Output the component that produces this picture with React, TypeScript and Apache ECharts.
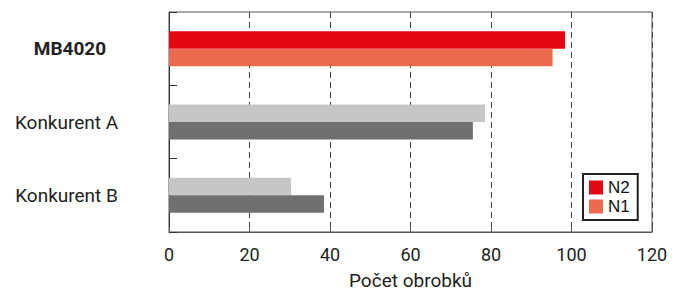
import React, { useEffect, useRef } from "react";
import * as echarts from "echarts";

const categories = ["Konkurent B", "Konkurent A", "MB4020"];
const n2Values = [30.3, 78.5, 98.4];
const n1Values = [38.5, 75.5, 95.3];
const xTicks = [0, 20, 40, 60, 80, 100, 120];
const highlight = "MB4020";

const N2_RED = "#E30613";
const N1_ORANGE = "#EC6A4E";
const LIGHT_GRAY = "#C6C6C6";
const DARK_GRAY = "#707070";

export default function App() {
  const ref = useRef<HTMLDivElement>(null);
  useEffect(() => {
    if (!ref.current) return;
    const chart = echarts.init(ref.current, undefined, { renderer: "svg" });
    const mk = (vals: number[], main: string, other: string) =>
      vals.map((v, i) => ({
        value: v,
        itemStyle: { color: categories[i] === highlight ? main : other },
      }));
    chart.setOption({
      animation: false,
      grid: {
        left: 169,
        right: 25,
        top: 12,
        bottom: 60,
        show: true,
        borderColor: "#555",
        borderWidth: 1,
      },
      legend: {
        orient: "vertical",
        left: 583,
        top: 174,
        data: ["N2", "N1"],
        icon: "rect",
        itemWidth: 14,
        itemHeight: 14,
        itemGap: 2,
        padding: [5, 8, 5, 6],
        borderColor: "#222",
        borderWidth: 2,
        backgroundColor: "#fff",
        textStyle: {
          fontFamily: "Liberation Sans",
          fontSize: 17,
          lineHeight: 17,
          color: "#111",
        },
      },
      xAxis: {
        type: "value",
        min: xTicks[0],
        max: xTicks[xTicks.length - 1],
        interval: 20,
        name: "Počet obrobků",
        nameLocation: "middle",
        nameGap: 39,
        nameTextStyle: { fontFamily: "Roboto", fontSize: 19, color: "#222" },
        axisLine: { show: true, lineStyle: { color: "#555", width: 1 } },
        axisTick: { show: true, inside: true, length: 5, lineStyle: { color: "#555" } },
        axisLabel: { margin: 13, fontFamily: "Roboto", fontSize: 18, color: "#222" },
        splitLine: {
          show: true,
          lineStyle: { color: "#444", type: [6, 4], width: 1 },
        },
      },
      yAxis: {
        type: "category",
        data: categories,
        axisLine: { show: true, lineStyle: { color: "#333", width: 1 } },
        axisTick: { show: true, inside: true, length: 8, lineStyle: { color: "#333" } },
        axisLabel: {
          margin: 101,
          align: "center",
          fontFamily: "Roboto",
          fontSize: 19,
          color: "#222",
          formatter: (v: string) => (v === highlight ? `{b|${v}}` : `{n|${v}}`),
          rich: {
            b: { fontFamily: "Roboto", fontSize: 19, fontWeight: "bold", color: "#222", padding: [0, 0, 0, 4] },
            n: { fontFamily: "Roboto", fontSize: 19, color: "#222", padding: [0, 3, 0, 0] },
          },
        },
        splitLine: { show: false },
      },
      series: [
        {
          name: "N2",
          type: "bar",
          barWidth: 17.5,
          barGap: "0%",
          itemStyle: { color: N2_RED },
          data: mk(n2Values, N2_RED, LIGHT_GRAY),
        },
        {
          name: "N1",
          type: "bar",
          barWidth: 17.5,
          barGap: "0%",
          itemStyle: { color: N1_ORANGE },
          data: mk(n1Values, N1_ORANGE, DARK_GRAY),
        },
      ],
    });
    return () => chart.dispose();
  }, []);
  return (
    <div
      ref={ref}
      style={{ position: "absolute", left: 0, top: 0, width: 677, height: 295 }}
    />
  );
}
